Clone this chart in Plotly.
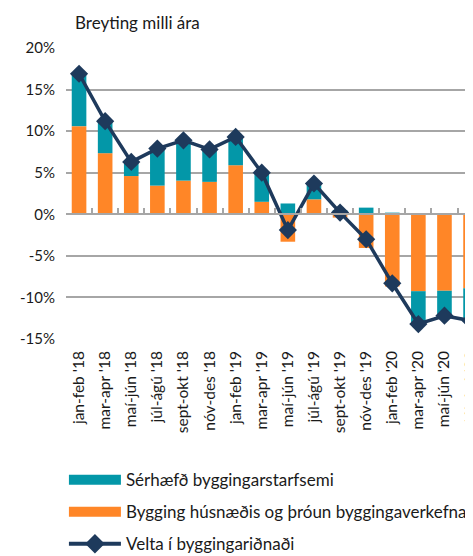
import plotly.graph_objects as go

categories = ["jan-feb '18", "mar-apr '18", "maí-jún '18", "júl-ágú '18", "sept-okt '18",
              "nóv-des '18", "jan-feb '19", "mar-apr '19", "maí-jún '19", "júl-ágú '19",
              "sept-okt '19", "nóv-des '19", "jan-feb '20", "mar-apr '20", "maí-jún '20",
              "júl-ágú '20"]
bygging_husnaedis = [10.6, 7.35, 4.6, 3.45, 4.05, 3.9, 5.9, 1.5, -3.3, 1.8, -0.4, -4.05, -8.7, -9.25, -9.2, -8.9]
serhaefd = [6.3, 3.9, 1.7, 4.5, 4.9, 3.9, 3.4, 3.5, 1.3, 2.0, 0.5, 0.8, 0.2, -3.8, -2.9, -3.8]
velta = [16.9, 11.2, 6.3, 7.9, 8.9, 7.8, 9.3, 5.0, -1.9, 3.7, 0.2, -3.0, -8.3, -13.2, -12.2, -12.8]
y_ticks = [-15, -10, -5, 0, 5, 10, 15, 20]
y_ticklabels = [f"{v}%" for v in y_ticks]

TEAL = "#0397A8"
ORANGE = "#FF8627"
NAVY = "#1E3A5C"
FONT = "Lato"

fig = go.Figure()
fig.add_trace(go.Bar(x=categories, y=bygging_husnaedis, marker_color=ORANGE,
                     marker_line_width=0, showlegend=False))
fig.add_trace(go.Bar(x=categories, y=serhaefd, marker_color=TEAL,
                     marker_line_width=0, showlegend=False))
fig.add_trace(go.Scatter(x=categories, y=velta, mode="lines+markers",
                         line=dict(color=NAVY, width=3.5),
                         marker=dict(symbol="diamond", size=14, color=NAVY),
                         showlegend=False))
# axis at zero with boundary ticks
fig.add_trace(go.Scatter(x=categories, y=[None] * len(categories), xaxis="x2",
                         showlegend=False, hoverinfo="skip"))

# legend entries
fig.add_trace(go.Scatter(x=[None], y=[None], mode="lines", name="Sérhæfð byggingarstarfsemi",
                         line=dict(color=TEAL, width=11), legendgroup="a"))
fig.add_trace(go.Scatter(x=[None], y=[None], mode="lines",
                         name="Bygging húsnæðis og þróun byggingaverkefna",
                         line=dict(color=ORANGE, width=11), legendgroup="b"))
fig.add_trace(go.Scatter(x=[None], y=[None], mode="lines+markers", name="Velta í byggingariðnaði",
                         line=dict(color=NAVY, width=4),
                         marker=dict(symbol="diamond", size=15, color=NAVY), legendgroup="c"))

yr = [-15, 20]
zero_pos = (0 - yr[0]) / (yr[1] - yr[0])

fig.update_layout(
    width=473, height=556,
    margin=dict(l=58, r=0, t=40, b=225, autoexpand=False),
    paper_bgcolor="white", plot_bgcolor="white",
    barmode="relative", bargap=0.44,
    font=dict(family=FONT, size=15, color="#1a1a1a"),
    xaxis=dict(range=[-0.5, 15.4], tickangle=-90, showgrid=False, showline=False,
               ticks="", tickfont=dict(size=15.5), ticklabelstandoff=8,
               automargin=False, fixedrange=True),
    xaxis2=dict(overlaying="x", matches="x", anchor="free", position=zero_pos,
                showline=True, linecolor="#A6A6A6", linewidth=2,
                ticks="inside", tickson="boundaries", ticklen=5, tickcolor="#A6A6A6",
                tickwidth=1.5, showticklabels=False, showgrid=False, automargin=False),
    yaxis=dict(range=yr, tickvals=y_ticks, ticktext=y_ticklabels,
               showgrid=True, gridcolor="#A6A6A6", gridwidth=2, zeroline=False,
               tickfont=dict(size=15), ticks="", ticklabelstandoff=10, automargin=False),
    legend=dict(orientation="v", x=-0.005, xanchor="left", y=-0.423, yanchor="top",
                itemwidth=52, tracegroupgap=7, traceorder="grouped",
                font=dict(size=17), bgcolor="rgba(0,0,0,0)"),
    annotations=[dict(text="Breyting milli ára", xref="paper", yref="paper",
                      x=0.017, y=1.086, xanchor="left", yanchor="middle",
                      showarrow=False, font=dict(size=17))],
)

fig.write_html("out.html")
